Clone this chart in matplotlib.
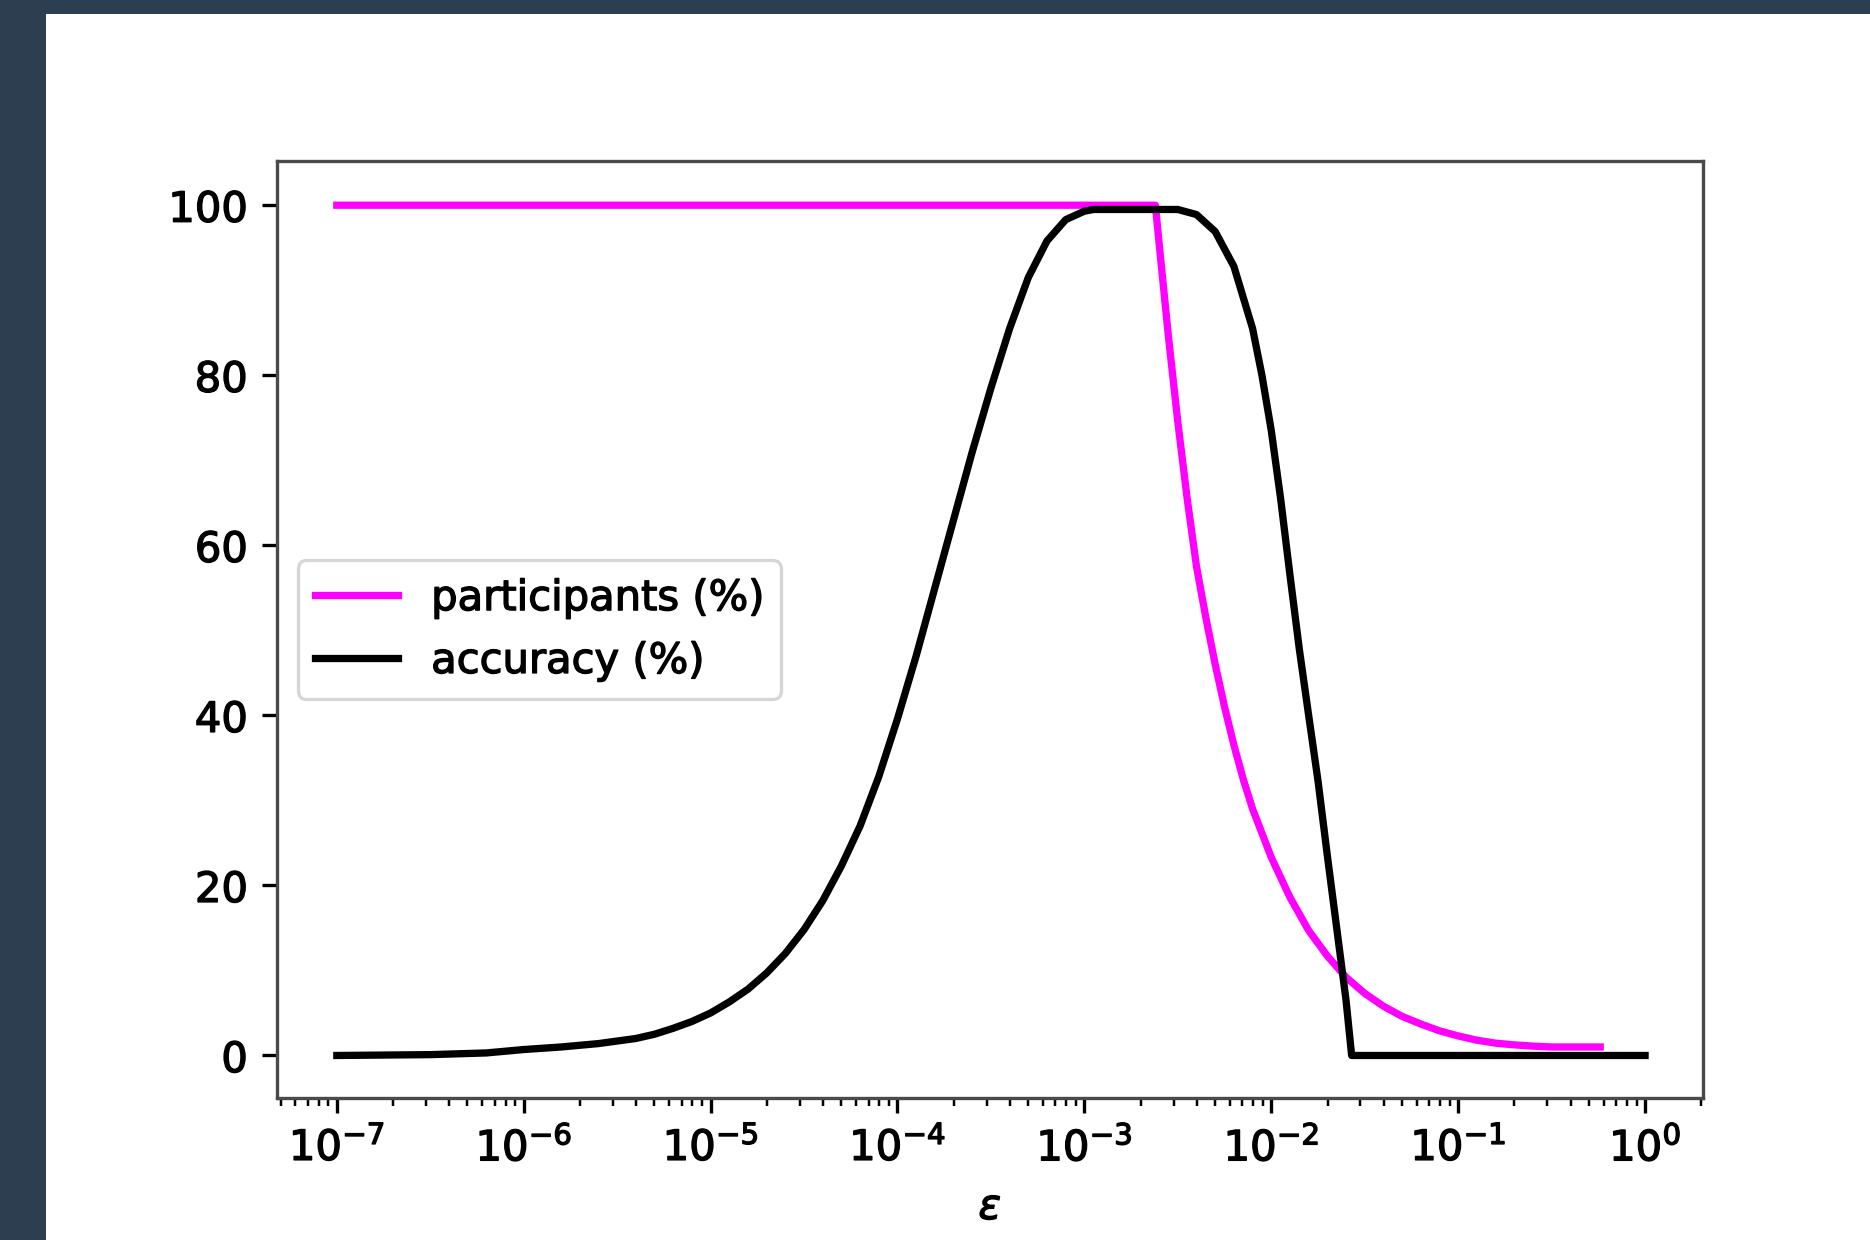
"""
participants / accuracy vs epsilon, log x axis, on a dark framed panel.
"""

import numpy as np
import matplotlib
matplotlib.use('Agg')
import matplotlib.pyplot as plt
import matplotlib.patheffects as pe
from matplotlib.patches import Rectangle

# values (x given as log10(eps))
part_log_eps = [-7.0, -2.62, -2.6, -2.55, -2.5, -2.45, -2.4, -2.35, -2.3,
                -2.25, -2.2, -2.15, -2.1, -2.0, -1.9, -1.8, -1.7, -1.6, -1.5,
                -1.4, -1.3, -1.2, -1.1, -1.0, -0.9, -0.8, -0.7, -0.6, -0.5,
                -0.24]
part_pct = [100.0, 100.0, 95.5, 84.5, 74.5, 65.5, 57.5, 51.5, 46.0,
            41.0, 36.5, 32.5, 29.0, 23.3, 18.6, 14.7, 11.7, 9.2, 7.3,
            5.8, 4.6, 3.7, 2.9, 2.3, 1.8, 1.45, 1.25, 1.1, 1.0,
            1.0]

acc_log_eps = [-7.0, -6.5, -6.2, -6.0, -5.8, -5.6, -5.4, -5.3, -5.2, -5.1,
               -5.0, -4.9, -4.8, -4.7, -4.6, -4.5, -4.4, -4.3, -4.2, -4.1,
               -4.0, -3.9, -3.8, -3.7, -3.6, -3.5, -3.4, -3.3, -3.2, -3.1,
               -3.0, -2.95, -2.5, -2.4, -2.3, -2.2, -2.1, -2.05, -2.0, -1.95,
               -1.9, -1.85, -1.8, -1.75, -1.7, -1.65, -1.6, -1.57, 0.0]
acc_pct = [0.0, 0.1, 0.3, 0.7, 1.0, 1.4, 2.0, 2.5, 3.2, 4.0,
           5.0, 6.3, 7.8, 9.7, 12.0, 14.8, 18.2, 22.3, 27.0, 32.8,
           39.6, 47.0, 55.0, 63.0, 71.0, 78.5, 85.5, 91.5, 95.8, 98.3,
           99.3, 99.5, 99.5, 98.9, 96.9, 92.8, 85.5, 80.0, 73.5, 65.5,
           56.5, 47.8, 40.0, 32.3, 23.5, 15.0, 6.5, 0.0, 0.0]

x_major = [1e-7, 1e-6, 1e-5, 1e-4, 1e-3, 1e-2, 1e-1, 1e0]
y_major = [0, 20, 40, 60, 80, 100]

labels = ['participants (%)', 'accuracy (%)']
colors = ['#ff00ff', 'black']

W, H = 1870, 1240
S = 3.0  # everything drawn ~3x the usual matplotlib size

plt.rcParams['font.family'] = ['DejaVu Sans']
plt.rcParams['font.size'] = 10 * S

# slight stroke so the text has the weight of the reference
heavy = [pe.withStroke(linewidth=1.0, foreground='black')]

fig = plt.figure(figsize=(W / 100, H / 100), dpi=100, facecolor='#2c3e50')
fig.add_artist(Rectangle((46 / W, 0), 1 - 46 / W, 1 - 14 / H,
                         transform=fig.transFigure, facecolor='white',
                         edgecolor='none', zorder=0))

ax = fig.add_axes([277 / W, 1 - 1098 / H, (1703 - 277) / W, (1098 - 161) / H])

ax.plot(10 ** np.array(part_log_eps), part_pct, color=colors[0],
        lw=1.75 * S, label=labels[0])
ax.plot(10 ** np.array(acc_log_eps), acc_pct, color=colors[1],
        lw=1.75 * S, label=labels[1])

ax.set_xscale('log')
ax.set_xticks(x_major)
ax.set_xlim(10 ** -7.32, 10 ** 0.31)
ax.set_ylim(-5, 105.2)
ax.set_yticks(y_major)
xl = ax.set_xlabel(r'$\epsilon$', labelpad=4 * S)
xl.set_path_effects(heavy)

for sp in ax.spines.values():
    sp.set_linewidth(0.8 * S)
    sp.set_color('#4a4a4a')
ax.tick_params(which='major', length=3.5 * S, width=0.8 * S, pad=3.5 * S,
               labelsize=10 * S)
ax.tick_params(which='minor', length=2 * S, width=0.6 * S)

leg = ax.legend(loc='center left', fontsize=10 * S, handlelength=2.0)
leg.get_frame().set_linewidth(0.8 * S)
for t in leg.get_texts():
    t.set_path_effects(heavy)

fig.canvas.draw()
for t in ax.get_xticklabels() + ax.get_yticklabels():
    t.set_path_effects(heavy)

fig.savefig('out.png', dpi=100, facecolor=fig.get_facecolor())
